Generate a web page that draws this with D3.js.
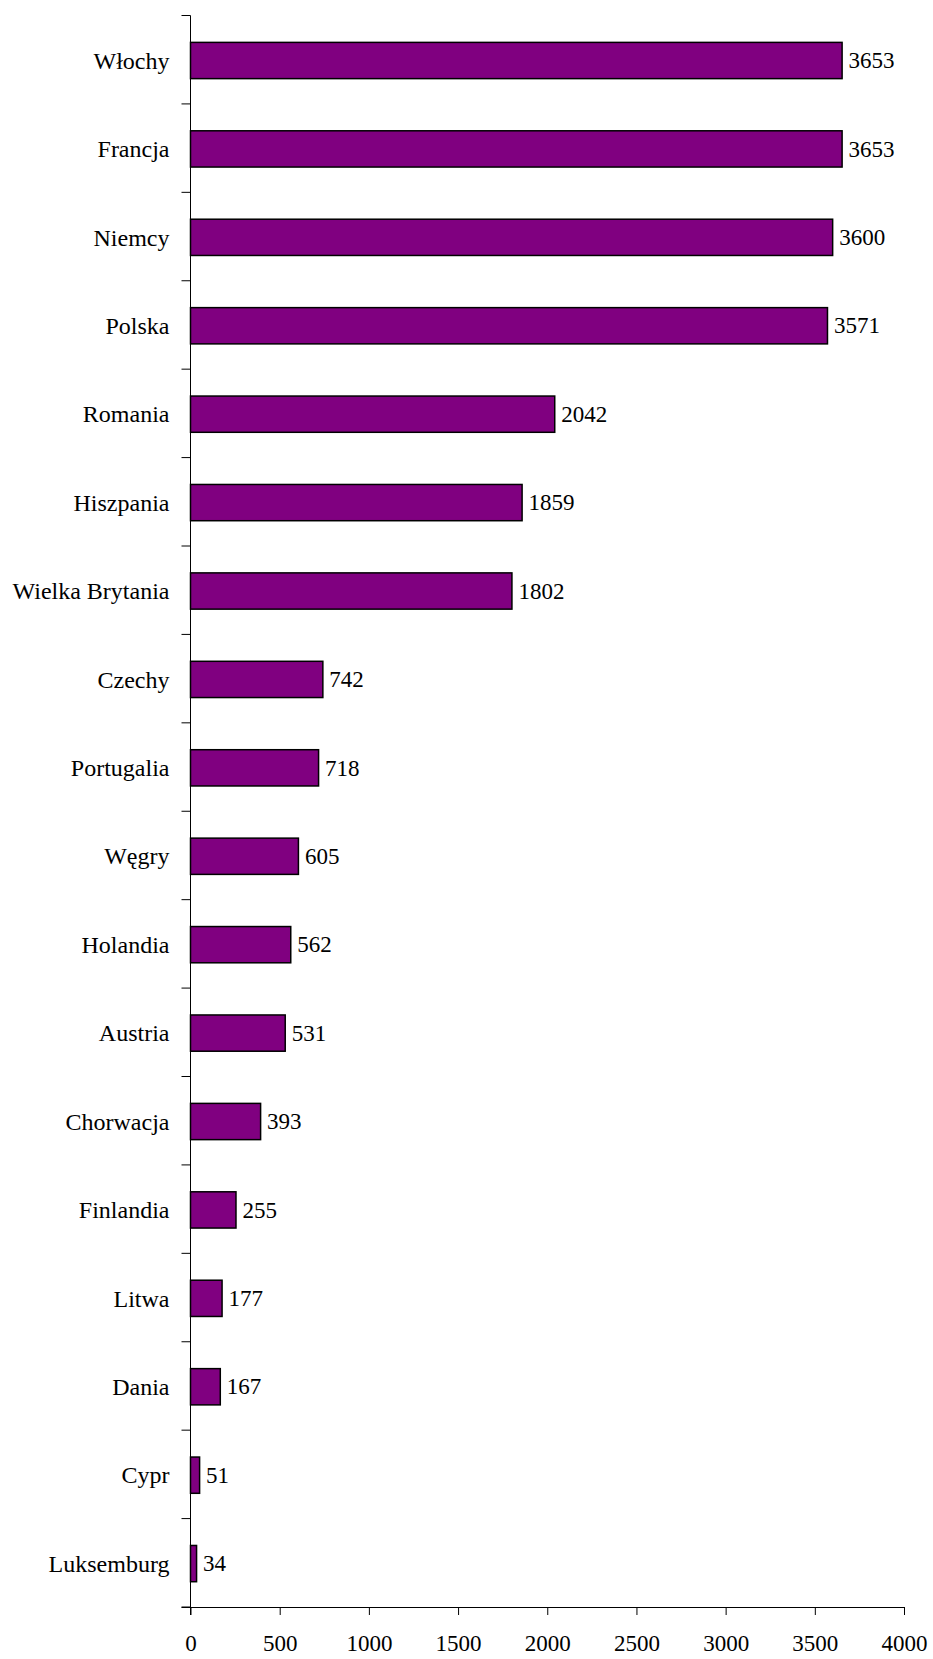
<!DOCTYPE html>
<html>
<head>
<meta charset="utf-8">
<script src="https://cdn.jsdelivr.net/npm/d3@7"></script>
<style>
  html, body { margin: 0; padding: 0; background: #fff; }
  svg { display: block; }
  text { font-family: "Liberation Serif", "Times New Roman", serif; fill: #000; }
</style>
</head>
<body>
<svg id="chart" width="933" height="1659"></svg>
<script>
const categories = ["Włochy","Francja","Niemcy","Polska","Romania","Hiszpania","Wielka Brytania","Czechy","Portugalia","Węgry","Holandia","Austria","Chorwacja","Finlandia","Litwa","Dania","Cypr","Luksemburg"];
const values = [3653,3653,3600,3571,2042,1859,1802,742,718,605,562,531,393,255,177,167,51,34];
const xTicks = [0,500,1000,1500,2000,2500,3000,3500,4000];

const data = categories.map((c, i) => ({ name: c, value: values[i] }));

const svg = d3.select("#chart");
const margin = { left: 190.5, top: 15.5 };

const x = d3.scaleLinear().domain([0, 4000]).range([margin.left, 904]);
const y = d3.scaleBand().domain(categories).range([margin.top, 1607]).paddingInner(0).paddingOuter(0);

const barH = y.bandwidth() * 0.41;

// bars
svg.append("g").selectAll("rect").data(data).enter().append("rect")
  .attr("x", x(0))
  .attr("y", d => y(d.name) + (y.bandwidth() - barH) / 2 + 0.8)
  .attr("width", d => x(d.value) - x(0))
  .attr("height", barH)
  .attr("fill", "#800080")
  .attr("stroke", "#000")
  .attr("stroke-width", 1.5);

// value labels
svg.append("g").selectAll("text").data(data).enter().append("text")
  .attr("x", d => x(d.value) + 6.5)
  .attr("y", d => y(d.name) + y.bandwidth() / 2 + 1)
  .attr("dominant-baseline", "central")
  .attr("font-size", 23)
  .text(d => d.value);

// y axis line and ticks at band boundaries
const yAxisG = svg.append("g");
yAxisG.append("line")
  .attr("x1", x(0)).attr("x2", x(0))
  .attr("y1", y.range()[0]).attr("y2", y.range()[1] + 8)
  .attr("stroke", "#000").attr("stroke-width", 1);
const boundaries = categories.map(c => y(c)).concat([y.range()[1]]);
yAxisG.selectAll("line.tick").data(boundaries).enter().append("line")
  .attr("class", "tick")
  .attr("x1", x(0) - 9).attr("x2", x(0))
  .attr("y1", d => d).attr("y2", d => d)
  .attr("stroke", "#000").attr("stroke-width", 1);

// category labels
yAxisG.selectAll("text").data(categories).enter().append("text")
  .attr("x", x(0) - 21)
  .attr("y", d => y(d) + y.bandwidth() / 2 + 1)
  .attr("text-anchor", "end")
  .attr("dominant-baseline", "central")
  .attr("font-size", 24)
  .text(d => d);

// x axis
const xAxis = d3.axisBottom(x).tickValues(xTicks).tickSize(8).tickPadding(20).tickFormat(d3.format("d"));
const xg = svg.append("g").attr("transform", `translate(0,${y.range()[1]})`).call(xAxis);
xg.select(".domain").attr("d", `M${x(0)-9},0.5H${x(4000)}`).attr("stroke", "#000");
xg.selectAll(".tick line").attr("stroke", "#000");
xg.selectAll(".tick text")
  .attr("font-size", 23)
  .attr("font-family", "Liberation Serif, Times New Roman, serif")
  .attr("fill", "#000");
</script>
</body>
</html>
